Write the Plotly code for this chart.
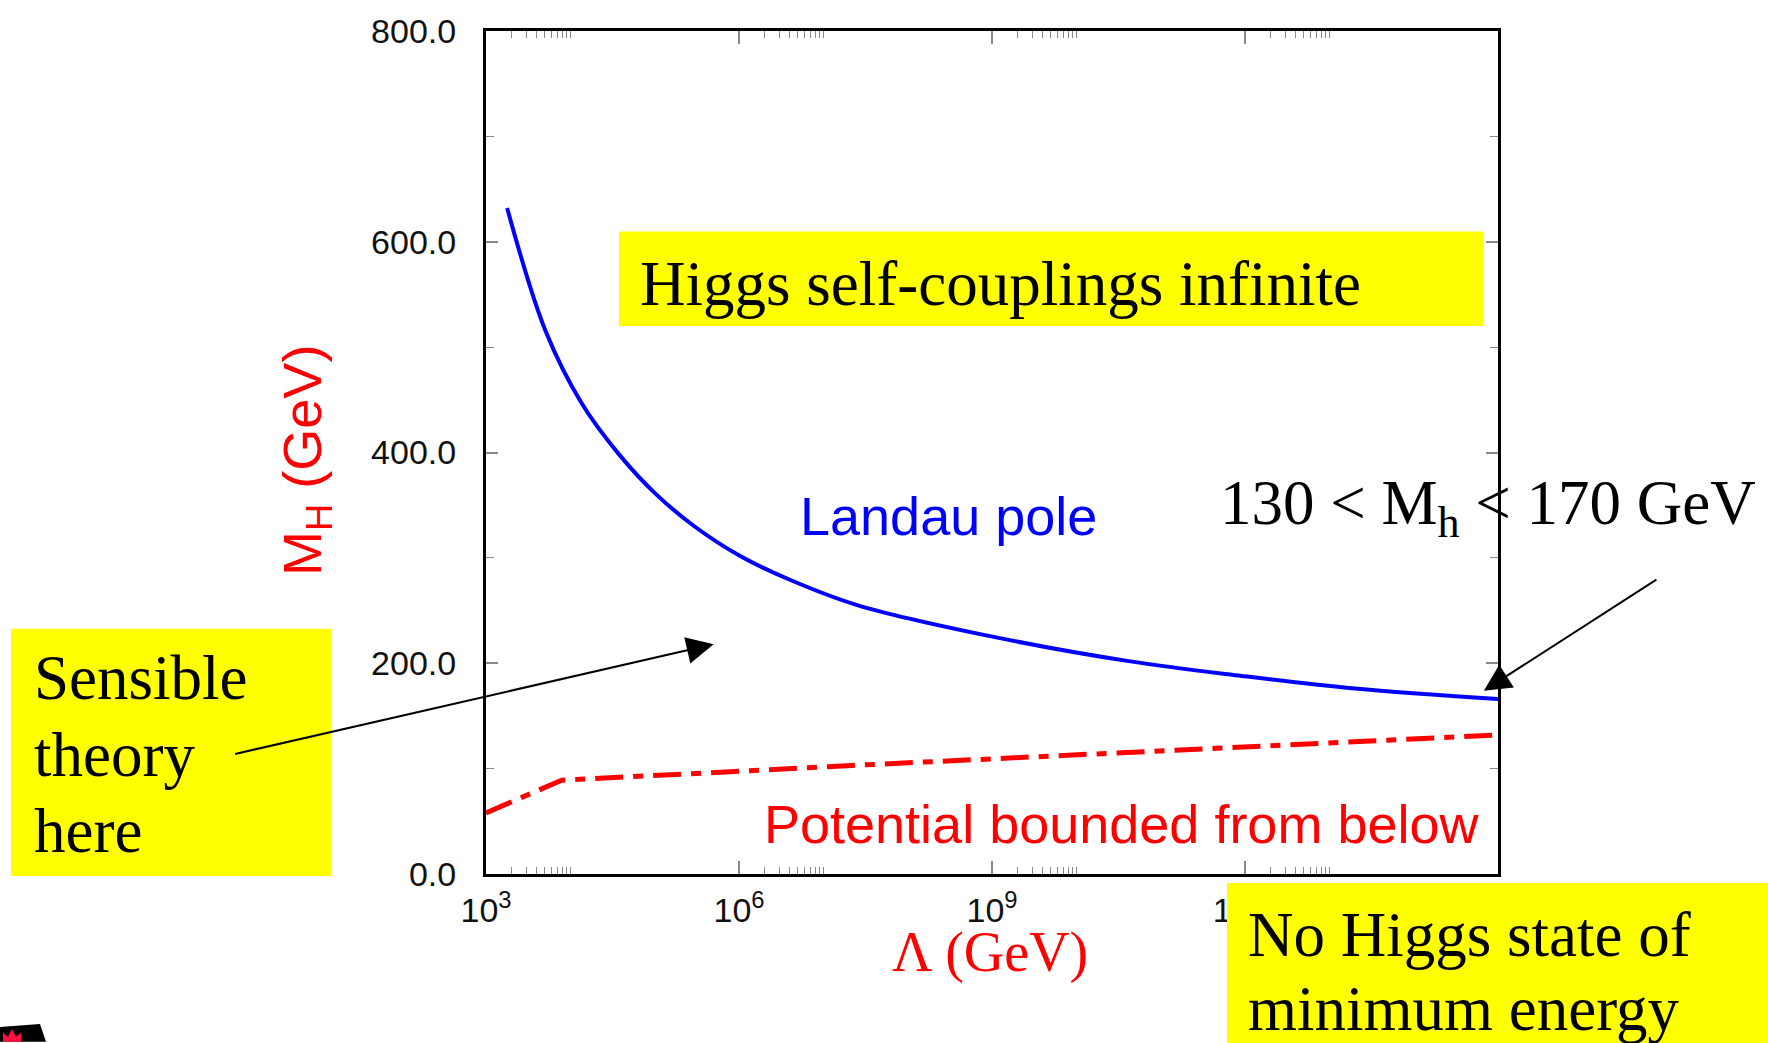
import plotly.graph_objects as go
import math

# ---------------- data ----------------
landau_lambda = [1.78e3, 5.1e3, 1.38e4, 3.8e4, 1.02e5, 2.95e5, 1.02e6, 4.07e6,
                 2.57e7, 1.05e9, 4.17e10, 9.1e11, 2.0e13, 1.0e15]
landau_mh = [632, 515, 446, 398, 361, 330, 302, 279, 255, 225, 202, 188, 176, 166]

vacuum_lambda = [1.0e3, 7.9e3, 2.2e7, 1.0e15]
vacuum_mh = [58, 89, 103, 132]

x_tick_vals = [1e3, 1e6, 1e9, 1e12, 1e15]
x_tick_text = ["10<sup>3</sup>", "10<sup>6</sup>", "10<sup>9</sup>",
               "10<sup>12</sup>", "10<sup>15</sup>"]
y_tick_vals = [0, 200, 400, 600, 800]
y_tick_text = ["0.0", "200.0", "400.0", "600.0", "800.0"]
x_minor_vals = [k * 10 ** d for d in (3, 6, 9, 12) for k in range(2, 11)]

arrow_targets_lambda = [5.0e5, 6.8e14]
arrow_targets_mh = [218, 174]

# ---------------- layout helpers (pixel -> paper) ----------------
W, H = 1768, 1043
L, R, T, B = 486, 1498, 25, 874


def px(xp):
    return (xp - L) / (R - L)


def py(yp):
    return (B - yp) / (B - T)


SERIF = "Liberation Serif"
SANS = "Liberation Sans"
YELLOW = "#ffff00"

fig = go.Figure()

fig.add_trace(go.Scatter(
    x=landau_lambda, y=landau_mh, mode="lines",
    line=dict(color="#0000ff", width=4, shape="spline", smoothing=1.0),
    showlegend=False, hoverinfo="skip"))

fig.add_trace(go.Scatter(
    x=vacuum_lambda, y=vacuum_mh, mode="lines",
    line=dict(color="#ff0000", width=5, dash="28px,10px,10px,10px"),
    showlegend=False, hoverinfo="skip"))

axis_common = dict(showline=True, linecolor="black", linewidth=3, mirror="allticks",
                   ticks="inside", tickcolor="#888888", tickwidth=1.5,
                   showgrid=False, zeroline=False,
                   tickfont=dict(family=SANS, size=34, color="#111111"))

fig.update_xaxes(type="log", range=[3, 15], tickmode="array",
                 tickvals=x_tick_vals, ticktext=x_tick_text, ticklen=13,
                 ticklabelstandoff=4,
                 minor=dict(tickmode="array", tickvals=x_minor_vals, ticks="inside",
                            ticklen=7, tickcolor="#888888", tickwidth=1.2),
                 **axis_common)
fig.update_yaxes(range=[0, 800], tickmode="array", tickvals=y_tick_vals,
                 ticktext=y_tick_text, ticklen=12, ticklabelstandoff=20,
                 minor=dict(dtick=100, ticks="inside", ticklen=8,
                            tickcolor="#888888", tickwidth=1.2),
                 **axis_common)

shapes = []
# yellow boxes
for (x0, y0, x1, y1) in [(619, 227, 1483, 322), (11, 627, 331, 876), (1227, 883, 1790, 1060)]:
    shapes.append(dict(type="rect", xref="paper", yref="paper",
                       x0=px(x0), x1=px(x1), y0=py(y1), y1=py(y0),
                       fillcolor=YELLOW, line=dict(width=0), layer="above"))


def path(points):
    return "M " + " L ".join(f"{px(a):.5f},{py(b):.5f}" for a, b in points) + " Z"


# small logo at bottom-left
shapes.append(dict(type="path", xref="paper", yref="paper",
                   path=path([(0, 1028), (40, 1025), (46, 1043), (0, 1043)]),
                   fillcolor="black", line=dict(width=0), layer="above"))
shapes.append(dict(type="path", xref="paper", yref="paper",
                   path=path([(3, 1043), (3, 1034), (8, 1038), (12, 1030), (16, 1038),
                              (21, 1034), (21, 1043)]),
                   fillcolor="#ff1040", line=dict(width=0), layer="above"))
fig.update_layout(shapes=shapes)

ann = []


def text(x, y, s, size, color="black", family=SERIF, xanchor="left", angle=0):
    ann.append(dict(xref="paper", yref="paper", x=px(x), y=py(y), text=s,
                    showarrow=False, xanchor=xanchor, yanchor="middle",
                    textangle=angle,
                    font=dict(family=family, size=size, color=color)))


text(638, 280, "Higgs self-couplings infinite", 63)
text(32, 677, "Sensible", 63)
text(32, 754, "theory", 63)
text(32, 831, "here", 63)
text(1246, 935, "No Higgs state of", 63)
text(1246, 1010, "minimum energy", 63)
text(1488, 505, "130 &lt; M<sub>h</sub> &lt; 170 GeV", 63, xanchor="center")
text(798, 513, "Landau pole", 54, color="#0000ff", family=SANS)
text(762, 824, "Potential bounded from below", 54, color="#ff0000", family=SANS)
text(990, 953, "Λ (GeV)", 56, color="#ff0000", xanchor="center")
text(306, 458, "M<sub>H</sub> (GeV)", 54, color="#ff0000", family=SANS,
     xanchor="center", angle=-90)

# arrows
arrow_tails = [(235 - 715, 753 - 643), (1658 - 1484, 578 - 690)]
for lam, mh, (dx, dy) in zip(arrow_targets_lambda, arrow_targets_mh, arrow_tails):
    ann.append(dict(x=math.log10(lam), y=mh, xref="x", yref="y", text="",
                    showarrow=True, ax=dx, ay=dy, axref="pixel", ayref="pixel",
                    arrowhead=2, arrowsize=2.7, arrowwidth=2, arrowcolor="black",
                    standoff=0))

fig.update_layout(annotations=ann)

fig.update_layout(width=W, height=H,
                  margin=dict(l=L, r=W - R, t=T, b=H - B, pad=0),
                  paper_bgcolor="white", plot_bgcolor="white")

fig.write_html("out.html")
